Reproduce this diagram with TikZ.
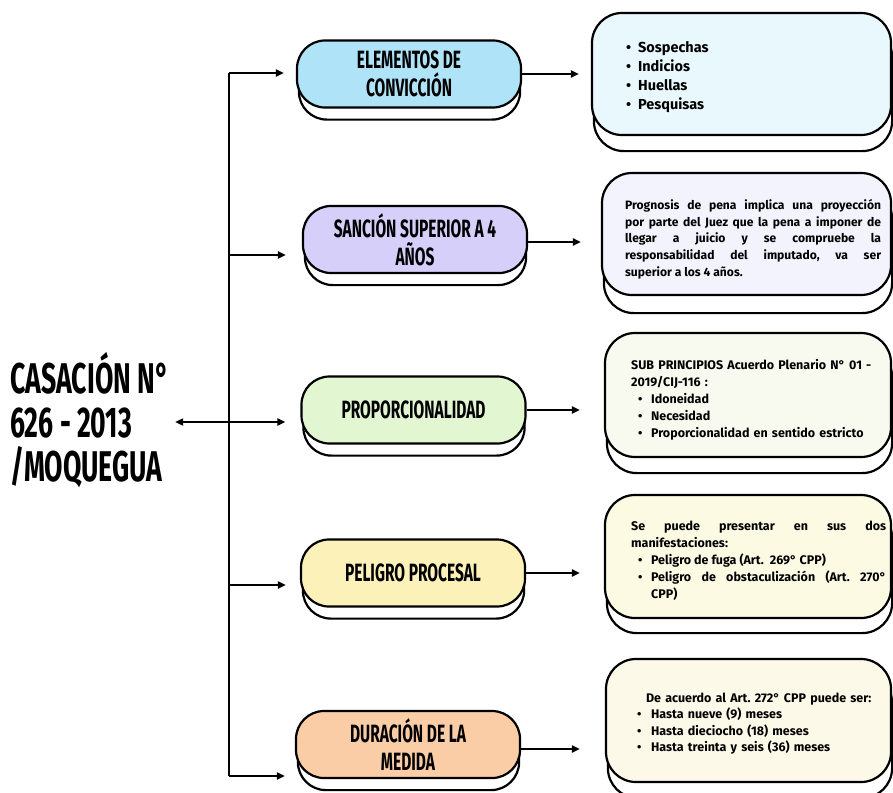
\documentclass[tikz,border=0pt]{standalone}
\usepackage{fontspec}
\setmainfont{Fira Sans}
\newfontfamily\hand[FakeStretch=0.62]{Fira Sans}
\usetikzlibrary{arrows.meta,backgrounds,calc}
\definecolor{capA}{HTML}{AEE3F8}
\definecolor{capB}{HTML}{D6CFFA}
\definecolor{capC}{HTML}{E2F6D2}
\definecolor{capD}{HTML}{FBF1B9}
\definecolor{capE}{HTML}{FBCDA6}
\definecolor{boxA}{HTML}{E9F8FD}
\definecolor{boxB}{HTML}{F2F3FD}
\definecolor{boxC}{HTML}{F9FAEF}
\definecolor{boxD}{HTML}{FDFAE4}
\definecolor{boxE}{HTML}{FCF9E9}
\newcommand\bul{\textbullet}
\newcommand\itm[3]{\par\noindent\hangindent=#2\hangafter=1\hspace*{#1}\makebox[\dimexpr#2-#1\relax][l]{\bul}#3}
\frenchspacing
\begin{document}
\begin{tikzpicture}[x=1pt,y=-1pt,
  capsule/.style={draw=black, line width=2.2pt, rounded corners=28pt, minimum width=224pt, minimum height=67pt, inner sep=0pt, align=center, font=\hand\bfseries\fontsize{25}{28}\selectfont},
  capshadow/.style={draw=black, fill=white, line width=2.2pt, rounded corners=28pt},
  rbox/.style={draw=black, line width=2.2pt, rounded corners=30pt, inner sep=0pt},
  boxshadow/.style={draw=black, fill=white, line width=2.2pt, rounded corners=30pt},
  btext/.style={inner sep=0pt, anchor=west, font=\bfseries\fontsize{12.5}{17}\selectfont},
  conn/.style={line width=1.9pt},
  arr/.style={line width=1.9pt, -{Triangle[length=8pt,width=7pt]}},
  dblarr/.style={line width=1.9pt, {Triangle[length=8pt,width=7pt]}-{Triangle[length=8pt,width=7pt]}},
  titletext/.style={inner sep=0pt, align=left, font=\hand\bfseries\fontsize{43}{44}\selectfont}
]
\useasboundingbox (0,0) rectangle (893,792);

% capsules
\node[capsule, fill=capA] (c1) at (409,74) {ELEMENTOS DE\\CONVICCIÓN};
\node[capsule, fill=capB] (c2) at (415,239.5) {SANCIÓN SUPERIOR A 4\\AÑOS};
\node[capsule, fill=capC] (c3) at (413.5,410) {PROPORCIONALIDAD};
\node[capsule, fill=capD] (c4) at (413,573) {PELIGRO PROCESAL};
\node[capsule, fill=capE] (c5) at (408,744.5) {DURACIÓN DE LA\\MEDIDA};

% right boxes
\node[rbox, fill=boxA, minimum width=299pt, minimum height=122pt] (b1) at (741.5,74) {};
\node[rbox, fill=boxB, minimum width=289pt, minimum height=122pt] (b2) at (746.5,234) {};
\node[rbox, fill=boxC, minimum width=286pt, minimum height=124pt] (b3) at (748,395) {};
\node[rbox, fill=boxD, minimum width=286pt, minimum height=123pt] (b4) at (748,556.5) {};
\node[rbox, fill=boxE, minimum width=285pt, minimum height=123pt] (b5) at (748.5,720.5) {};

\begin{scope}[on background layer]
  \fill[white] (0,0) rectangle (893,792);
  \foreach \c in {c1,c2,c3,c4,c5}{
    \draw[capshadow] ([xshift=3pt,yshift=-11pt]\c.south west) rectangle ([xshift=-2pt,yshift=-11pt]\c.north east);
  }
  \foreach \b/\s in {b1/15,b2/17,b3/15,b4/14,b5/15}{
    \draw[boxshadow] ([xshift=3pt,yshift=-\s pt]\b.south west) rectangle ([xshift=0pt,yshift=-\s pt]\b.north east);
  }
\end{scope}

% box texts
\node[btext, font=\bfseries\fontsize{14.5}{19}\selectfont, text width=200pt] (t1) at ([xshift=35pt,yshift=1pt]b1.west)
  {\itm{0pt}{12pt}{Sospechas}\itm{0pt}{12pt}{Indicios}\itm{0pt}{12pt}{Huellas}\itm{0pt}{12pt}{Pesquisas}\par};
\node[btext, font=\bfseries\fontsize{12.1}{16.7}\selectfont, text width=256pt, align=justify] (t2) at ([xshift=24pt,yshift=-5pt]b2.west)
  {Prognosis de pena implica una proyección\linebreak por parte del Juez que la pena a imponer de\linebreak llegar a juicio y se compruebe la\linebreak responsabilidad del imputado, va ser\linebreak superior a los 4 años.\par};
\node[btext, text width=250pt] (t3) at ([xshift=27pt,yshift=-5pt]b3.west)
  {\noindent SUB PRINCIPIOS Acuerdo Plenario N° 01 -\par\noindent 2019/CIJ-116 :\itm{7pt}{20pt}{Idoneidad}\itm{7pt}{20pt}{Necesidad}\itm{7pt}{20pt}{Proporcionalidad en sentido estricto}\par};
\node[btext, text width=255pt, align=justify] (t4) at ([xshift=27pt,yshift=-4pt]b4.west)
  {\noindent Se puede presentar en sus dos\linebreak manifestaciones:\itm{7pt}{20pt}{Peligro de fuga (Art.\ \ 269° CPP)}\itm{7pt}{20pt}{Peligro de obstaculización (Art. 270°\linebreak CPP)}\par};
\node[btext, font=\bfseries\fontsize{12.5}{16.5}\selectfont, text width=250pt] (t5) at ([xshift=26pt,yshift=-3pt]b5.west)
  {\noindent\hspace*{15pt}De acuerdo al Art. 272° CPP puede ser:\itm{6pt}{20pt}{Hasta nueve (9) meses}\itm{6pt}{20pt}{Hasta dieciocho (18) meses}\itm{6pt}{20pt}{Hasta treinta y seis (36) meses}\par};

% title
\node[titletext, anchor=west] (title) at (10,420) {CASACIÓN N°\\626 - 2013\\/MOQUEGUA};

% connectors
\coordinate (j1) at (229,73);
\coordinate (j2) at (229,255);
\coordinate (j3) at (229,422);
\coordinate (j4) at (229,585);
\coordinate (j5) at (229,776);
\draw[conn] (j1) -- (j5);
\draw[arr] (j1) -- ($(j1 -| c1.west)+(-12,0)$);
\draw[arr] (j2) -- ($(j2 -| c2.west)+(-16,0)$);
\draw[arr] (j4) -- ($(j4 -| c4.west)+(-14,0)$);
\draw[arr] (j5) -- ($(j5 -| c5.west)+(-10,0)$);
\coordinate (ta) at ($(title.east |- j3)+(6,0)$);
\draw[dblarr] (ta) -- ($(j3 -| c3.west)+(-15,0)$);

\draw[arr] (c1.east) -- ($(c1.east -| b1.west)+(-12,0)$);
\draw[arr] ([yshift=-2.5pt]c2.east) -- ($([yshift=-2.5pt]c2.east -| b2.west)+(-20,0)$);
\draw[arr] (c3.east) -- ($(c3.east -| b3.west)+(-24,0)$);
\draw[arr] (c4.east) -- ($(c4.east -| b4.west)+(-24,0)$);
\draw[arr] ([yshift=-4.5pt]c5.east) -- ($([yshift=-4.5pt]c5.east -| b5.west)+(-25,0)$);
\end{tikzpicture}
\end{document}
